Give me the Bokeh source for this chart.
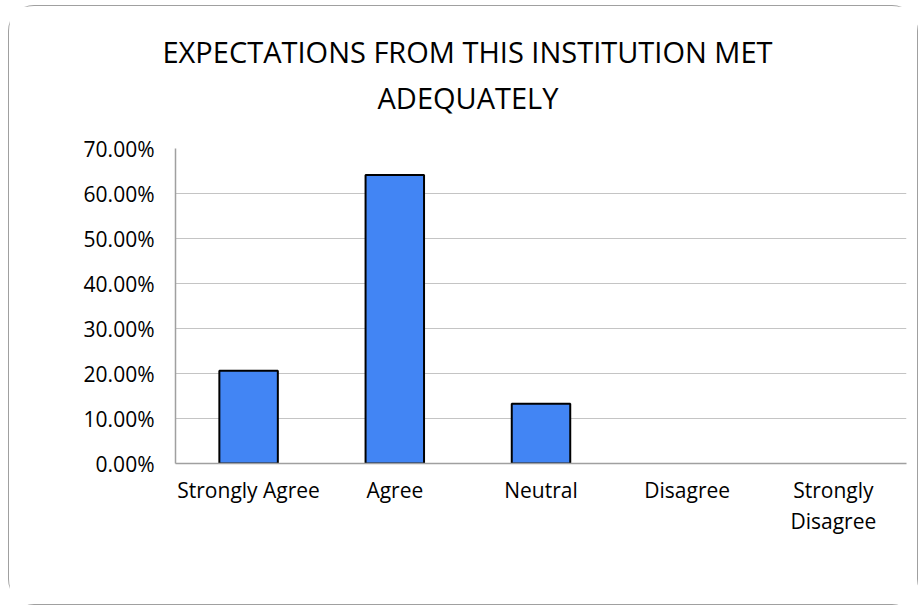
from bokeh.plotting import figure
from bokeh.models import NumeralTickFormatter, FixedTicker, Title, Range1d, LinearAxis
from bokeh.embed import file_html
from bokeh.resources import INLINE

categories = ["Strongly Agree", "Agree", "Neutral", "Disagree", "Strongly Disagree"]
values = [0.206, 0.641, 0.133, 0.0, 0.0]
y_ticks = [0.0, 0.1, 0.2, 0.3, 0.4, 0.5, 0.6, 0.7]
title_lines = ["EXPECTATIONS FROM THIS INSTITUTION MET", "ADEQUATELY"]
# category labels split over two lines (the 2nd line is drawn by a second axis)
label_line1 = ["Strongly Agree", "Agree", "Neutral", "Disagree", "Strongly"]
label_line2 = ["", "", "", "", "Disagree"]

FONT = "Open Sans"
idx = list(range(len(categories)))

p = figure(x_range=Range1d(-0.5, len(categories) - 0.5), y_range=Range1d(0, 0.7),
           width=910, height=600, output_backend="svg", toolbar_location=None,
           min_border_left=166, min_border_right=13, min_border_top=142, min_border_bottom=143)
p.margin = (5, 0, 0, 8)

outline_colors = ["#000000" if v > 0 else None for v in values]
p.vbar(x=idx, top=values, width=0.4, fill_color="#4285F4",
       line_color=outline_colors, line_width=2)

# p.title is outermost; first-added "above" panels sit nearest the frame
p.title = Title(text=title_lines[0], align="left", text_font=FONT,
                text_font_size="29px", text_font_style="normal", text_color="#000000",
                standoff=10, offset=-13)
# spacer between title and plot area
p.add_layout(Title(text=" ", text_font_size="2px", standoff=28), "above")
p.add_layout(Title(text=title_lines[1], align="left", text_font=FONT,
                   text_font_size="29px", text_font_style="normal", text_color="#000000",
                   standoff=0, offset=202), "above")

p.outline_line_color = None
p.xgrid.grid_line_color = None
p.ygrid.grid_line_color = "#C4C4C4"
p.ygrid.grid_line_width = 1

p.yaxis.ticker = FixedTicker(ticks=y_ticks)
p.yaxis.formatter = NumeralTickFormatter(format="0.00%")

ax1 = p.xaxis[0]
ax1.ticker = FixedTicker(ticks=idx)
ax1.major_label_overrides = {i: t for i, t in zip(idx, label_line1)}
ax2 = LinearAxis(ticker=FixedTicker(ticks=idx))
ax2.major_label_overrides = {i: t for i, t in zip(idx, label_line2)}
p.add_layout(ax2, "below")

for ax in (ax1, p.yaxis[0], ax2):
    ax.axis_line_color = "#A0A0A0"
    ax.axis_line_width = 1.5
    ax.major_tick_line_color = None
    ax.minor_tick_line_color = None
    ax.major_tick_out = 0
    ax.major_tick_in = 0
    ax.minor_tick_out = 0
    ax.minor_tick_in = 0
    ax.major_label_text_font = FONT
    ax.major_label_text_font_size = "21px"
    ax.major_label_text_color = "#000000"
p.yaxis.major_label_standoff = 21
ax1.major_label_standoff = 12
ax2.axis_line_color = None
ax2.major_label_standoff = 0

p.styles = {"border": "1.5px solid #A0A0A0", "border-radius": "26px", "box-sizing": "border-box"}

open("out.html", "w").write(file_html(p, INLINE))
